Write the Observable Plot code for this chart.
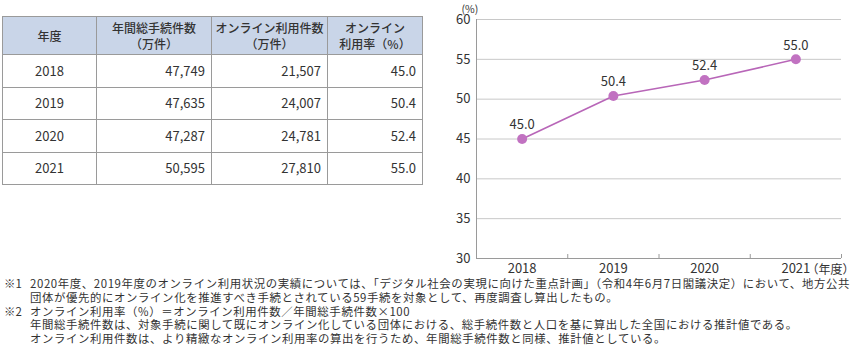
<!DOCTYPE html>
<html><head><meta charset="utf-8">
<script src="https://cdn.jsdelivr.net/npm/d3@7"></script>
<script src="https://cdn.jsdelivr.net/npm/@observablehq/plot@0.6"></script>
<style>
body{margin:0;width:868px;height:354px;position:relative;font-family:"Noto Sans CJK JP","Noto Sans",sans-serif;color:#333;background:#fff;overflow:hidden}
#tbl{position:absolute;left:2px;top:16px;border-collapse:collapse;font-size:13px;table-layout:fixed;width:420px}
#tbl th,#tbl td{border:1px solid #9a9a9a;padding:0 6px;box-sizing:border-box}
#tbl th{background:#c9d5e8;font-weight:500;font-size:12px;line-height:16px;height:38px;text-align:center;color:#333;padding:0 1px;white-space:nowrap}
#tbl td{height:32.5px;text-align:right;line-height:16px}
#tbl td.c{text-align:center}
#chart{position:absolute;left:440px;top:0}
#notes{position:absolute;left:4px;top:277px;font-size:11.4px;line-height:13.8px;color:#333;white-space:nowrap}
.n{display:flex;height:13.8px}.n span{display:inline-block;height:13.8px;line-height:13.8px;overflow:visible}.n .k{width:26px;flex:none}.n .t{letter-spacing:0.62px}
</style></head><body>
<table id="tbl"></table>
<div id="chart"></div>
<div id="notes"></div>
<script>
const years = [2018, 2019, 2020, 2021];
const totalProcedures = [47749, 47635, 47287, 50595];
const onlineCount = [21507, 24007, 24781, 27810];
const onlineRate = [45.0, 50.4, 52.4, 55.0];
const headers = [["年度"], ["年間総手続件数", "（万件）"], ["オンライン利用件数", "（万件）"], ["オンライン", "利用率（%）"]];
const yTicks = [30, 35, 40, 45, 50, 55, 60];
const notes = [
  ["※1", ["2020年度、2019年度のオンライン利用状況の実績については、「デジタル社会の実現に向けた重点計画」（令和4年6月7日閣議決定）において、地方公共", "団体が優先的にオンライン化を推進すべき手続とされている59手続を対象として、再度調査し算出したもの。"]],
  ["※2", ["オンライン利用率（%）＝オンライン利用件数／年間総手続件数×100", "年間総手続件数は、対象手続に関して既にオンライン化している団体における、総手続件数と人口を基に算出した全国における推計値である。", "オンライン利用件数は、より精緻なオンライン利用率の算出を行うため、年間総手続件数と同様、推計値としている。"]]
];

// table
const widths = [94, 115, 116, 95];
const tbl = d3.select("#tbl");
const hr = tbl.append("tr");
headers.forEach((h, i) => {
  const th = hr.append("th").style("width", widths[i] + "px");
  th.html(h.join("<br>"));
});
const fmt = d3.format(",");
years.forEach((y, i) => {
  const tr = tbl.append("tr");
  tr.append("td").attr("class", "c").text(y);
  tr.append("td").text(fmt(totalProcedures[i]));
  tr.append("td").text(fmt(onlineCount[i]));
  tr.append("td").text(onlineRate[i].toFixed(1));
});

// chart
const data = years.map((y, i) => ({year: y, rate: onlineRate[i]}));
const bounds = years.map(y => y + 0.5);
const chart = Plot.plot({
  width: 428, height: 280,
  marginLeft: 36, marginRight: 27, marginTop: 19, marginBottom: 22,
  style: {fontFamily: '"Noto Sans CJK JP","Noto Sans",sans-serif', fontSize: "13px", color: "#333", background: "transparent", overflow: "visible"},
  x: {type: "linear", domain: [years[0] - 0.5, years[years.length - 1] + 0.5]},
  y: {domain: [30, 60]},
  marks: [
    Plot.ruleY(yTicks.slice(1), {stroke: "#c8c8c8", strokeWidth: 1}),
    Plot.ruleY([30], {stroke: "#9a9a9a"}),
    Plot.frame({anchor: "left", stroke: "#9a9a9a"}),
    Plot.ruleX(bounds, {y1: 30, y2: 30.5, stroke: "#9a9a9a"}),
    Plot.axisY({ticks: yTicks, tickSize: 0, tickPadding: 6, label: null, fontSize: 13}),
    Plot.axisX({ticks: years, tickFormat: d => String(d), tickSize: 0, tickPadding: 5, label: null, fontSize: 13}),
    Plot.line(data, {x: "year", y: "rate", stroke: "#b866b8", strokeWidth: 1.6}),
    Plot.dot(data, {x: "year", y: "rate", r: 5, fill: "#c172c1", stroke: "none"}),
    Plot.text(data, {x: "year", y: "rate", text: d => d.rate.toFixed(1), dy: -14, fontSize: 13, fill: "#333"}),
    Plot.text(["(%)"], {frameAnchor: "top-left", dx: -15, dy: -14, fontSize: 10.5, fill: "#333"}),
    Plot.text(["（年度）"], {x: bounds[bounds.length - 1], y: 30, dx: -35, dy: 12, textAnchor: "start", fontSize: 12, fill: "#333"})
  ]
});
document.getElementById("chart").append(chart);

// notes
const nd = d3.select("#notes");
notes.forEach(([k, lines]) => {
  lines.forEach((l, j) => {
    const row = nd.append("div").attr("class", "n");
    row.append("span").attr("class", "k").text(j === 0 ? k : "");
    row.append("span").attr("class", "t").text(l);
  });
});
</script>
</body></html>
